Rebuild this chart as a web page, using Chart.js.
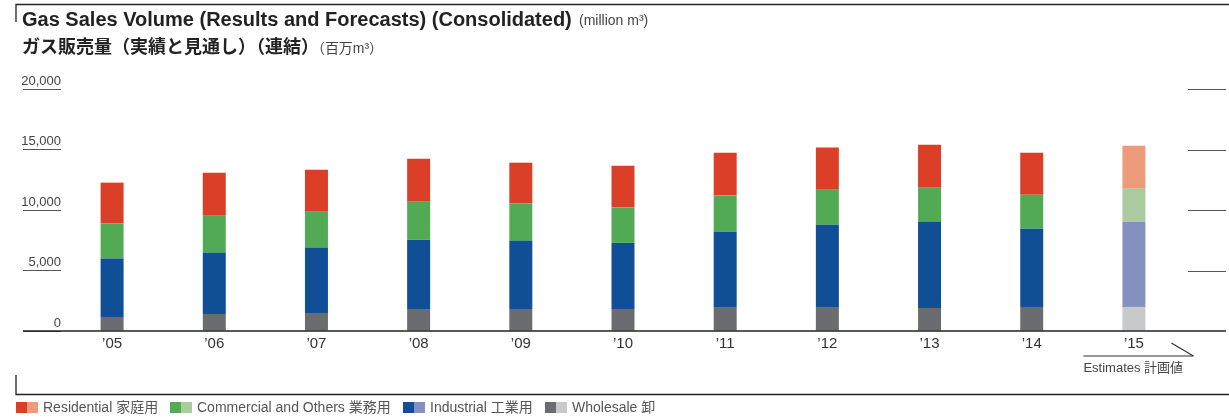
<!DOCTYPE html>
<html>
<head>
<meta charset="utf-8">
<title>Gas Sales Volume</title>
<script src="https://cdn.jsdelivr.net/npm/chart.js@4.4.1/dist/chart.umd.min.js"></script>
<style>
  body { margin: 0; background: #fff; }
  canvas { display: block; }
</style>
</head>
<body>
<canvas id="gasChart" width="1229" height="420"></canvas>
<script>
// fiscal years, the last one is the plan (estimates)
const years = ['’05', '’06', '’07', '’08', '’09', '’10', '’11', '’12', '’13', '’14', '’15'];
const wholesale   = [1160, 1410, 1490, 1820, 1820, 1820, 1930, 1930, 1900, 1990, 1990];
const industrial  = [4830, 5050, 5380, 5710, 5630, 5460, 6270, 6850, 7120, 6460, 7040];
const commercial  = [2900, 3060, 2980, 3150, 3090, 2920, 3010, 2900, 2820, 2810, 2730];
const residential = [3370, 3560, 3480, 3560, 3370, 3460, 3530, 3480, 3560, 3480, 3560];
const yTicks = [0, 5000, 10000, 15000, 20000];
const estimateIndex = 10;

const FONT = '"Liberation Sans", "Noto Sans CJK JP", sans-serif';

function barColors(dark, light) {
    return years.map((y, i) => i >= estimateIndex ? light : dark);
}

const series = [
    { label: 'Wholesale 卸', data: wholesale, dark: '#6b6c70', light: '#c8c9cb' },
    { label: 'Industrial 工業用', data: industrial, dark: '#104e96', light: '#8490bf' },
    { label: 'Commercial and Others 業務用', data: commercial, dark: '#52aa55', light: '#aacc9e' },
    { label: 'Residential 家庭用', data: residential, dark: '#db3f28', light: '#ec9c7a' },
];

function line(ctx, x1, y1, x2, y2) {
    ctx.beginPath();
    ctx.moveTo(x1, y1);
    ctx.lineTo(x2, y2);
    ctx.stroke();
}

const decorPlugin = {
    id: 'decor',
    afterDraw(chart) {
        const ctx = chart.ctx;
        const xs = chart.scales.x;
        const ys = chart.scales.y;
        ctx.save();

        // frame brackets top and bottom
        ctx.strokeStyle = '#222';
        ctx.lineWidth = 1.3;
        ctx.beginPath();
        ctx.moveTo(16, 22); ctx.lineTo(16, 4.5); ctx.lineTo(1229, 4.5);
        ctx.moveTo(16, 375); ctx.lineTo(16, 394.5); ctx.lineTo(1229, 394.5);
        ctx.stroke();

        // titles
        ctx.textBaseline = 'middle';
        ctx.textAlign = 'left';
        ctx.fillStyle = '#222';
        ctx.font = 'bold 20px ' + FONT;
        ctx.fillText('Gas Sales Volume (Results and Forecasts) (Consolidated)', 22, 20, 551);
        ctx.font = '14px ' + FONT;
        ctx.fillStyle = '#444';
        ctx.fillText('(million m³)', 579, 21, 86);
        ctx.fillStyle = '#222';
        ctx.font = 'bold 18px ' + FONT;
        ctx.fillText('ガス販売量（実績と見通し）（連結）', 22, 48, 300);
        ctx.font = '14px ' + FONT;
        ctx.fillStyle = '#444';
        ctx.fillText('（百万m³）', 311, 49, 72);

        // baseline
        const base = ys.getPixelForValue(0);
        ctx.strokeStyle = '#222';
        ctx.lineWidth = 1.5;
        line(ctx, 23, base, 1226, base);

        // right-hand tick lines
        ctx.strokeStyle = '#555';
        ctx.lineWidth = 1;
        yTicks.slice(1).forEach(v => {
            const py = Math.round(ys.getPixelForValue(v)) + 0.5;
            line(ctx, 1188, py, 1226, py);
        });

        // estimates note under the last bar
        const ex = xs.getPixelForValue(estimateIndex);
        ctx.strokeStyle = '#333';
        ctx.lineWidth = 1.2;
        line(ctx, ex - 50.5, 356, ex + 59.5, 356);
        line(ctx, ex + 37.5, 343, ex + 59.5, 356);
        ctx.fillStyle = '#444';
        ctx.font = '13px ' + FONT;
        ctx.fillText('Estimates 計画値', ex - 50.5, 368.5, 101);

        // legend with dark/light swatches
        const legendX = [16, 170, 403, 545];
        const order = series.slice().reverse();
        ctx.font = '14px ' + FONT;
        order.forEach((s, i) => {
            const lx = legendX[i];
            ctx.fillStyle = s.dark;
            ctx.fillRect(lx, 402, 11, 11);
            ctx.fillStyle = s.light;
            ctx.fillRect(lx + 11, 402, 11, 11);
            ctx.fillStyle = '#555';
            ctx.fillText(s.label, lx + 27, 408.5);
        });

        ctx.restore();
    }
};

function init() {
    const ctx = document.getElementById('gasChart').getContext('2d');
    new Chart(ctx, {
        type: 'bar',
        data: {
            labels: years,
            datasets: series.map(s => ({
                label: s.label,
                data: s.data,
                backgroundColor: barColors(s.dark, s.light),
                borderWidth: 0,
                categoryPercentage: 1,
                barPercentage: 0.225,
            })),
        },
        options: {
            responsive: false,
            animation: false,
            layout: { padding: { top: 89, left: 0, right: 44, bottom: 0 } },
            plugins: {
                legend: { display: false },
                tooltip: { enabled: false },
            },
            scales: {
                x: {
                    stacked: true,
                    grid: { display: false },
                    border: { display: false },
                    ticks: { color: '#333', font: { family: FONT, size: 15 }, padding: -4, maxRotation: 0 },
                    afterFit: s => { s.height = 89; },
                },
                y: {
                    stacked: true,
                    min: 0,
                    max: 20000,
                    afterBuildTicks: s => { s.ticks = yTicks.map(v => ({ value: v })); },
                    ticks: {
                        color: '#444',
                        font: { family: FONT, size: 13 },
                        padding: -38,
                        labelOffset: -8,
                        callback: v => v.toLocaleString('en-US'),
                    },
                    grid: { drawOnChartArea: false, drawTicks: true, tickLength: 38, color: '#555', lineWidth: 1 },
                    border: { display: false },
                    afterFit: s => { s.width = 61; },
                },
            },
        },
        plugins: [decorPlugin],
    });
}

window.onload = init;
</script>
</body>
</html>
